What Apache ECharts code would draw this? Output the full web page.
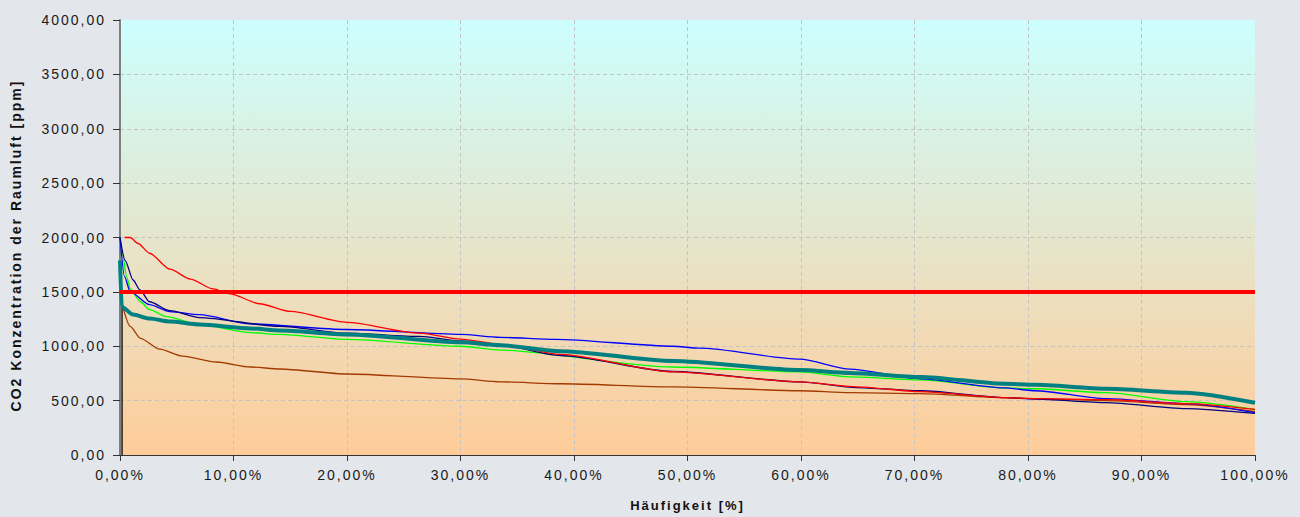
<!DOCTYPE html>
<html>
<head>
<meta charset="utf-8">
<script src="https://cdn.jsdelivr.net/npm/echarts@6/dist/echarts.min.js"></script>
<style>
  html, body { margin: 0; padding: 0; width: 1300px; height: 517px; overflow: hidden; background: #E3E6EB; }
  #chart { display: block; width: 1300px; height: 517px; letter-spacing: 2px; overflow: hidden; }
</style>
</head>
<body>
<div id="chart"></div>
<script>
// Sorted CO2 duration curves: frequency [%] vs. concentration [ppm]
const redFreq   = [0.4, 0.9, 1.6, 2.6, 4.4, 6.2, 8.2, 9.7, 12.3, 15, 20, 26.4, 30, 33.5, 38.8, 48.7, 59.9, 64.9, 70.5, 78, 80.6, 86.9, 93.9, 100];
const redPpm    = [2000, 2000, 1945, 1855, 1709, 1618, 1527, 1482, 1391, 1320, 1220, 1120, 1065, 1018, 925, 764, 673, 627, 582, 527, 518, 509, 473, 420];

const navyFreq  = [0, 0.45, 1.15, 1.76, 2.6, 4.4, 7.0, 14.1, 20, 26.4, 30, 33.5, 38.8, 48.7, 59.9, 64.9, 70.5, 78, 80.6, 86.9, 93.9, 100];
const navyPpm   = [2000, 1790, 1609, 1518, 1409, 1327, 1264, 1182, 1120, 1090, 1050, 1010, 915, 768, 673, 620, 591, 527, 515, 482, 427, 382];

const blueFreq  = [0, 0.4, 0.9, 2.6, 4.4, 7.0, 11.5, 20, 30, 33.5, 38.4, 48.7, 51.1, 59.9, 64.3, 70.5, 77.9, 80.6, 86.9, 93.9, 100];
const bluePpm   = [2000, 1640, 1500, 1382, 1318, 1290, 1205, 1154, 1109, 1082, 1064, 1000, 982, 882, 790, 700, 618, 591, 518, 473, 390];

const greenFreq = [0, 0.2, 0.6, 0.9, 1.8, 2.6, 4.1, 7.0, 11.5, 14.1, 20, 30, 33.5, 48.7, 59.9, 64.3, 70.5, 77.9, 80.6, 86.9, 93.9, 100];
const greenPpm  = [2000, 1850, 1636, 1527, 1409, 1336, 1273, 1200, 1125, 1109, 1063, 1000, 964, 809, 764, 718, 691, 618, 609, 573, 491, 420];

const tealFreq  = [0, 0.15, 1.15, 2.6, 4.4, 7.0, 11.5, 14.1, 20, 30, 33.5, 38.8, 48.7, 59.9, 64.3, 70.5, 77.9, 80.6, 86.9, 93.9, 100];
const tealPpm   = [1790, 1364, 1291, 1255, 1227, 1200, 1164, 1145, 1109, 1036, 1009, 955, 864, 782, 755, 718, 655, 645, 609, 573, 480];

const brownFreq = [0.15, 0.9, 1.8, 3.5, 5.5, 8.5, 11.5, 14.1, 20, 30, 33.5, 38.8, 48.7, 59.9, 64.3, 70.5, 77.9, 80.6, 86.9, 93.9, 100];
const brownPpm  = [1400, 1182, 1073, 973, 909, 855, 809, 791, 745, 700, 673, 655, 627, 591, 573, 564, 527, 518, 500, 464, 400];

// Limit value line and its left marker
const limitFreq  = [0, 100];
const limitPpm   = [1500, 1500];
const markerFreq = [0.18, 0.18];
const markerPpm  = [0, 1500];

// Axis ticks
const xTicks = [0, 10, 20, 30, 40, 50, 60, 70, 80, 90, 100];
const yTicks = [0, 500, 1000, 1500, 2000, 2500, 3000, 3500, 4000];

const zip = (xs, ys) => xs.map((x, i) => [x, ys[i]]);
const fmt = v => v.toFixed(2).replace('.', ',');

function line(name, xs, ys, color, width, z, smooth) {
  return {
    name, type: 'line', data: zip(xs, ys), showSymbol: false, symbol: 'none',
    smooth: smooth ? 0.25 : false, smoothMonotone: 'x',
    lineStyle: { color, width }, z, animation: false, silent: true
  };
}

const chart = echarts.init(document.getElementById('chart'), null, { renderer: 'svg', width: 1300, height: 517 });
chart.setOption({
  backgroundColor: '#E3E6EB',
  textStyle: { fontFamily: '"Liberation Sans", Arial, sans-serif' },
  grid: {
    left: 120, right: 45, top: 20, bottom: 57,
    show: true, borderWidth: 0,
    backgroundColor: {
      type: 'linear', x: 0, y: 0, x2: 0, y2: 1,
      colorStops: [
        { offset: 0, color: '#CCFFFF' },
        { offset: 1, color: '#FFCC99' }
      ]
    }
  },
  xAxis: {
    type: 'value', min: xTicks[0], max: xTicks[xTicks.length - 1], interval: 10,
    name: 'Häufigkeit [%]', nameLocation: 'middle', nameGap: 44,
    nameTextStyle: { fontWeight: 'bold', fontSize: 13, color: '#111' },
    axisLine: { show: true, lineStyle: { color: '#333', width: 1 } },
    axisTick: { show: true, length: 6, lineStyle: { color: '#333' } },
    axisLabel: { formatter: v => fmt(v) + '%', fontSize: 14, color: '#1a1a1a', margin: 13 },
    splitLine: { show: true, showMinLine: false, showMaxLine: false,
      lineStyle: { color: '#C4C4C4', type: [4, 3], width: 1 } }
  },
  yAxis: {
    type: 'value', min: yTicks[0], max: yTicks[yTicks.length - 1], interval: 500,
    name: 'CO2 Konzentration der Raumluft [ppm]', nameLocation: 'middle', nameGap: 97,
    nameTextStyle: { fontWeight: 'bold', fontSize: 14, color: '#111', padding: [0, 16, 0, 0] },
    axisLine: { show: true, lineStyle: { color: '#7F7F7F', width: 2 } },
    axisTick: { show: true, length: 7, lineStyle: { color: '#333' } },
    axisLabel: { formatter: v => fmt(v), fontSize: 14, color: '#1a1a1a', margin: 14 },
    splitLine: { show: true, showMinLine: false, showMaxLine: false,
      lineStyle: { color: '#C4C4C4', type: [4, 3], width: 1 } }
  },
  series: [
    line('Markierung', markerFreq, markerPpm, '#000000', 1.3, 1, false),
    line('Raum 6', brownFreq, brownPpm, '#A33A00', 1.3, 2, true),
    line('Raum 4', greenFreq, greenPpm, '#00FF00', 1.3, 3, true),
    line('Raum 3', blueFreq, bluePpm, '#0000FF', 1.3, 4, true),
    line('Raum 2', navyFreq, navyPpm, '#000080', 1.3, 5, true),
    line('Raum 1', redFreq, redPpm, '#FF0000', 1.3, 6, true),
    line('Raum 5', tealFreq, tealPpm, '#008080', 4, 7, true),
    line('Grenzwert', limitFreq, limitPpm, '#FF0000', 4, 8, false)
  ]
});
</script>
</body>
</html>
